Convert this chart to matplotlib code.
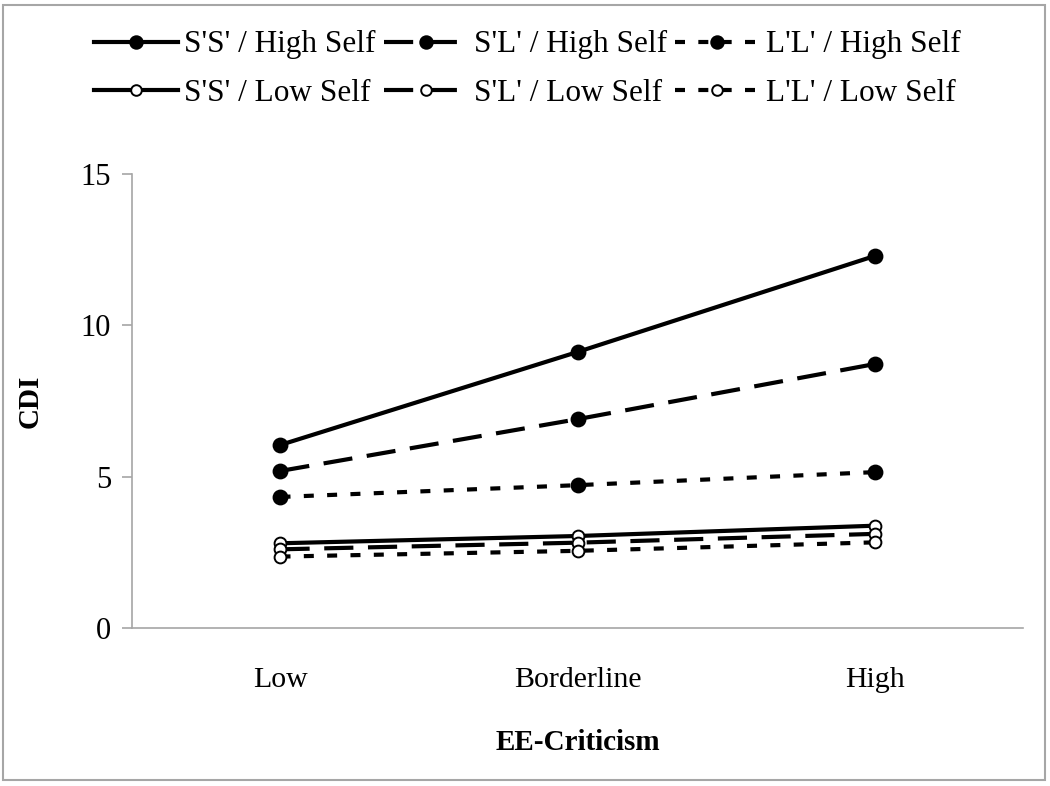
import matplotlib
matplotlib.use("Agg")
import matplotlib.pyplot as plt
from matplotlib.patches import Rectangle

plt.rcParams['font.family'] = ['Liberation Serif', 'DejaVu Serif']

categories = ["Low", "Borderline", "High"]
ss_high = [6.05, 9.12, 12.29]
sl_high = [5.19, 6.90, 8.72]
ll_high = [4.33, 4.72, 5.15]
ss_low = [2.80, 3.04, 3.38]
sl_low = [2.60, 2.82, 3.11]
ll_low = [2.36, 2.55, 2.83]
labels = ["S'S' / High Self", "S'L' / High Self", "L'L' / High Self",
          "S'S' / Low Self", "S'L' / Low Self", "L'L' / Low Self"]

fig = plt.figure(figsize=(10.5, 7.86), dpi=100)
fig.patches.append(Rectangle((0.003, 0.007), 0.992, 0.987, transform=fig.transFigure,
                             fill=False, edgecolor="#a6a6a6", linewidth=1.5))
ax = fig.add_axes([0.1257, 0.2010, 0.8486, 0.5776])

x = list(range(len(categories)))
lw = 3.0
solid = '-'
dashed = (0, (7, 3.5))
dotted = (0, (2.4, 3.2))
series = [
    (ss_high, solid, 'black', labels[0]),
    (sl_high, dashed, 'black', labels[1]),
    (ll_high, dotted, 'black', labels[2]),
    (ss_low, solid, 'white', labels[3]),
    (sl_low, dashed, 'white', labels[4]),
    (ll_low, dotted, 'white', labels[5]),
]
handles = {}
for vals, ls, mfc, lab in series:
    ms = 10 if mfc == 'black' else 8.5
    h, = ax.plot(x, vals, linestyle=ls, color='black', linewidth=lw, marker='o',
                 markersize=ms, markerfacecolor=mfc, markeredgecolor='black',
                 markeredgewidth=1.4, label=lab, dash_capstyle='butt')
    handles[lab] = h

ax.set_xlim(-0.5, 2.5)
ax.set_ylim(0, 15)
ax.set_yticks([0, 5, 10, 15])
ax.set_xticks(x)
ax.set_xticklabels(categories)
ax.tick_params(axis='x', length=0, labelsize=21.5, pad=28)
ax.tick_params(axis='y', length=7, color='#a6a6a6', width=1.2, labelsize=22, pad=8)
for s in ['top', 'right']:
    ax.spines[s].set_visible(False)
for s in ['left', 'bottom']:
    ax.spines[s].set_color('#a6a6a6')
    ax.spines[s].set_linewidth(1.2)

ax.set_xlabel("EE-Criticism", fontsize=21, fontweight='bold', labelpad=26)
ax.set_ylabel("CDI", fontsize=21, fontweight='bold', labelpad=27)

order = [labels[0], labels[3], labels[1], labels[4], labels[2], labels[5]]
leg = fig.legend([handles[l] for l in order], order, loc='upper center',
                 bbox_to_anchor=(0.502, 0.997), ncol=3, frameon=False,
                 fontsize=22.5, handlelength=2.7, handletextpad=0.2,
                 columnspacing=0.25, labelspacing=0.62, markerscale=0.9)

fig.savefig("out.png", dpi=100)
